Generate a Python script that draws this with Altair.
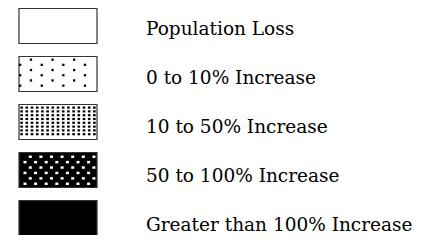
import altair as alt
import pandas as pd

# Legend content
labels = [
    "Population Loss",
    "0 to 10% Increase",
    "10 to 50% Increase",
    "50 to 100% Increase",
    "Greater than 100% Increase",
]
fills = ["white", "white", "white", "black", "black"]
rows = [0, 1, 2, 3, 4]

# Layout (pixel-like units of the plot area)
W, H = 416, 227
STEP, TOP, HALF = 48, 18, 17.5
BX0, BX1, TX = 11, 89, 138
T_TOP, T_STEP = 27.3, 48.85

df = pd.DataFrame({"label": labels, "fill": fills, "row": rows})

xs = alt.Scale(domain=[0, W], range=[0, W], nice=False, zero=False)
ys = alt.Scale(domain=[0, H], range=[0, H], nice=False, zero=False)

base = alt.Chart(df).transform_calculate(
    yc=f"{T_TOP} + {T_STEP} * datum.row",
    y0=f"{TOP} + {STEP} * datum.row - {HALF}",
    y1=f"{TOP} + {STEP} * datum.row + {HALF}",
    x0=f"{BX0}",
    x1=f"{BX1}",
    tx=f"{TX}",
)

boxes = base.mark_rect(stroke="#333333", strokeWidth=1.2, opacity=1).encode(
    x=alt.X("x0:Q", scale=xs, axis=None),
    x2="x1:Q",
    y=alt.Y("y0:Q", scale=ys, axis=None),
    y2="y1:Q",
    fill=alt.Fill("fill:N", scale=None, legend=None),
)

text = base.mark_text(
    align="left", baseline="alphabetic",
    font="DejaVu Serif",
    fontSize=18.5, color="black",
).encode(
    x=alt.X("tx:Q", scale=xs, axis=None),
    y=alt.Y("yc:Q", scale=ys, axis=None),
    text="label:N",
)


def dots(row, ncols, nrows, x0, dx, y0off, dy, w, h, color, checker):
    top = TOP + STEP * row - HALF
    bottom = TOP + STEP * row + HALF
    c = alt.Chart(alt.sequence(0, ncols * nrows, as_="n")).transform_calculate(
        k=f"datum.n % {ncols}", j=f"floor(datum.n / {ncols})"
    )
    if checker:
        c = c.transform_filter("(datum.k + datum.j) % 2 == 1")
    c = c.transform_calculate(
        dx0=f"{x0} + {dx} * datum.k",
        dx1=f"{x0} + {dx} * datum.k + {w}",
        dy0=f"{top} + {y0off} + {dy} * datum.j",
        dy1=f"{top} + {y0off} + {dy} * datum.j + {h}",
    ).transform_filter(f"datum.dy1 <= {bottom - 0.5} && datum.dx1 <= {BX1 - 0.5}")
    return c.mark_rect(color=color, opacity=1).encode(
        x=alt.X("dx0:Q", scale=xs, axis=None),
        x2="dx1:Q",
        y=alt.Y("dy0:Q", scale=ys, axis=None),
        y2="dy1:Q",
    )


sparse = dots(1, 8, 7, 11, 10.8, 2, 5.2, 2.3, 2.3, "black", True)
dense = dots(2, 15, 9, 12.3, 5.2, 2, 3.8, 2.6, 2.2, "black", False)
inverse = dots(3, 14, 7, 15.5, 5.3, 3, 5.4, 3, 2.5, "white", True)

chart = alt.layer(boxes, sparse, dense, inverse, text).properties(
    width=W, height=H, autosize=alt.AutoSizeParams(type="none"), padding=0,
    background="white",
).configure_view(stroke=None)

chart.save("out.html", embed_options={"renderer": "svg", "actions": False})
